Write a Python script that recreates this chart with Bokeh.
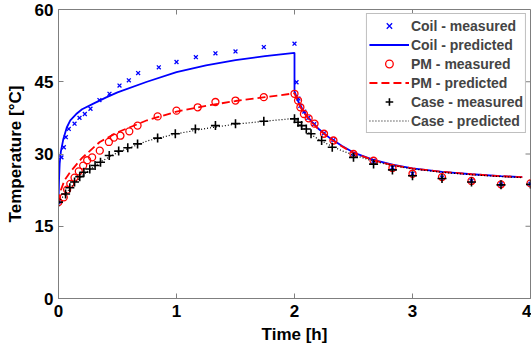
import math
from bokeh.plotting import figure
from bokeh.models import FixedTicker, Range1d
from bokeh.embed import file_html
from bokeh.resources import INLINE

# ---- data ----
coil_meas_t = [0, 0.025, 0.045, 0.062, 0.087, 0.136, 0.178, 0.223, 0.271, 0.347, 0.432, 0.517, 0.596, 0.675,
               0.85, 1.0, 1.164, 1.33, 1.5, 1.74, 2.0,
               2.017, 2.033, 2.05, 2.083, 2.117, 2.167, 2.25, 2.33, 2.5, 2.67, 2.83, 3.0, 3.25, 3.5, 3.75, 4.0]
coil_meas_T = [20, 29.3, 31.4, 33.5, 35.2, 36.3, 37.5, 38.3, 39.4, 41.2, 42.5, 44.2, 45.3, 46.8,
               48.0, 49.1, 50.1, 50.9, 51.3, 52.2, 52.9,
               44.9, 41.5, 40.0, 38.8, 37.5, 36.2, 34.3, 32.9, 30.0, 28.6, 27.2, 25.9, 25.1, 24.4, 23.7, 23.8]

coil_pred_t = [0, 0.005, 0.01, 0.02, 0.04, 0.07, 0.1, 0.15, 0.2, 0.3, 0.4, 0.5, 0.75, 1.0, 1.25, 1.5, 1.75, 2.0,
               2.0, 2.03, 2.06, 2.1, 2.15, 2.2, 2.3, 2.4, 2.5, 2.67, 2.83, 3.0, 3.25, 3.5, 3.75, 3.93]
coil_pred_T = [20, 25, 28, 30.5, 33, 35.5, 37, 38.3, 39.3, 40.5, 41.7, 42.8, 45.0, 47.0, 48.4, 49.5, 50.3, 51.0,
               43.0, 41.0, 39.5, 38.0, 36.6, 35.3, 33.3, 31.7, 30.3, 28.8, 27.8, 27.0, 26.3, 25.8, 25.4, 25.2]

pm_meas_t = [0, 0.045, 0.073, 0.10, 0.136, 0.172, 0.209, 0.243, 0.285, 0.35, 0.427, 0.47, 0.525, 0.6, 0.67,
             0.84, 1.0, 1.18, 1.33, 1.5, 1.74, 2.0,
             2.03, 2.05, 2.08, 2.12, 2.17, 2.25, 2.33, 2.5, 2.67, 2.83, 3.0, 3.25, 3.5, 3.75, 4.0]
pm_meas_T = [20, 21.0, 22.6, 23.8, 25.1, 26.4, 27.6, 28.7, 29.3, 30.7, 32.5, 33.4, 33.8, 34.7, 35.9,
             37.8, 39.0, 39.7, 40.8, 41.1, 41.8, 42.5,
             41.1, 39.7, 38.3, 37.4, 36.3, 34.2, 32.8, 30.0, 28.6, 27.1, 25.9, 25.2, 24.4, 23.7, 23.9]

pm_pred_t = [0, 0.02, 0.05, 0.1, 0.2, 0.35, 0.5, 0.75, 1.0, 1.25, 1.5, 1.75, 2.0,
             2.03, 2.06, 2.1, 2.15, 2.2, 2.3, 2.4, 2.5, 2.67, 2.83, 3.0, 3.25, 3.5, 3.75, 3.93]
pm_pred_T = [20, 22.5, 24.5, 26.3, 29.2, 32.5, 34.5, 37, 38.8, 40, 41, 41.8, 42.6,
             40.8, 39.3, 37.9, 36.5, 35.2, 33.2, 31.6, 30.2, 28.7, 27.7, 27.0, 26.3, 25.8, 25.4, 25.2]

case_meas_t = [0, 0.06, 0.096, 0.136, 0.18, 0.215, 0.265, 0.31, 0.356, 0.43, 0.51, 0.587, 0.67, 0.84, 0.99,
               1.16, 1.33, 1.5, 1.74, 2.0,
               2.03, 2.06, 2.1, 2.14, 2.23, 2.32, 2.5, 2.67, 2.83, 3.0, 3.25, 3.5, 3.75, 4.0]
case_meas_T = [20, 21.7, 23.0, 24.2, 25.3, 26.2, 26.9, 27.6, 28.3, 29.7, 30.6, 31.3, 32.1, 33.3, 34.2,
               35.2, 35.9, 36.3, 36.8, 37.3,
               36.6, 35.9, 35.2, 34.2, 32.8, 31.4, 29.3, 27.9, 26.7, 25.5, 24.9, 24.2, 23.6, 23.7]

case_pred_t = [0, 0.05, 0.1, 0.2, 0.35, 0.5, 0.75, 1.0, 1.25, 1.5, 1.75, 2.0,
               2.03, 2.06, 2.1, 2.15, 2.2, 2.3, 2.4, 2.5, 2.67, 2.83, 3.0, 3.25, 3.5, 3.75, 3.93]
case_pred_T = [20, 21.5, 23, 25.5, 28.3, 30.3, 32.7, 34.2, 35.3, 36.2, 36.8, 37.4,
               36.5, 35.7, 34.8, 33.9, 33.1, 31.8, 30.7, 29.8, 28.5, 27.6, 26.9, 26.2, 25.7, 25.3, 25.1]

x_ticks = [0, 1, 2, 3, 4]
y_ticks = [0, 15, 30, 45, 60]
x_lim = (0, 4)
y_lim = (0, 60)

FONT = "Liberation Sans"
AX = "#7f7f7f"

p = figure(width=531, height=347, output_backend="svg", toolbar_location=None,
           x_range=Range1d(*x_lim), y_range=Range1d(*y_lim),
           min_border_left=58, min_border_right=1, min_border_top=9, min_border_bottom=49)
p.grid.visible = False
p.outline_line_color = AX
p.background_fill_color = "white"

p.scatter(coil_meas_t, coil_meas_T, marker="x", size=5.5, line_color="#0000ff", line_width=1.3,
          legend_label="Coil - measured")
p.line(coil_pred_t, coil_pred_T, line_color="#0000ff", line_width=1.8, legend_label="Coil - predicted")
p.scatter(pm_meas_t, pm_meas_T, marker="circle", size=7, line_color="#ff0000", fill_color=None,
          line_width=1.3, legend_label="PM - measured")
p.line(pm_pred_t, pm_pred_T, line_color="#ff0000", line_width=1.8, line_dash="8 4",
       legend_label="PM - predicted")
p.scatter(case_meas_t, case_meas_T, marker="cross", size=9, line_color="black", line_width=1.6,
          legend_label="Case - measured")
p.line(case_pred_t, case_pred_T, line_color="black", line_width=1.2, line_dash="1 2",
       legend_label="Case - predicted")

# inward box ticks on top and right (MATLAB style)
p.ray(x=x_ticks, y=[y_lim[1]] * len(x_ticks), length=5, length_units="screen",
      angle=-math.pi / 2, line_color=AX, line_width=1)
p.ray(x=[x_lim[1]] * len(y_ticks), y=y_ticks, length=5, length_units="screen",
      angle=math.pi, line_color=AX, line_width=1)

for ax in (p.xaxis[0], p.yaxis[0]):
    ax.axis_line_color = AX
    ax.major_tick_line_color = AX
    ax.major_tick_in = 5
    ax.major_tick_out = 0
    ax.minor_tick_line_color = None
    ax.major_label_text_font = FONT
    ax.major_label_text_font_style = "bold"
    ax.major_label_text_font_size = "17px"
    ax.major_label_text_color = "black"
    ax.axis_label_text_font = FONT
    ax.axis_label_text_font_style = "bold"
    ax.axis_label_text_font_size = "17px"
    ax.axis_label_text_color = "black"
p.xaxis[0].ticker = FixedTicker(ticks=x_ticks)
p.yaxis[0].ticker = FixedTicker(ticks=y_ticks)
p.xaxis[0].axis_label = "Time [h]"
p.yaxis[0].axis_label = "Temperature [°C]"
p.xaxis[0].major_label_standoff = 6
p.yaxis[0].major_label_standoff = 5
p.xaxis[0].axis_label_standoff = 5
p.yaxis[0].axis_label_standoff = 7

lg = p.legend[0]
lg.location = "top_right"
lg.border_line_color = AX
lg.border_line_width = 1
lg.background_fill_color = "white"
lg.background_fill_alpha = 1
lg.label_text_font = FONT
lg.label_text_font_style = "bold"
lg.label_text_font_size = "14px"
lg.glyph_width = 40
lg.label_height = 19
lg.glyph_height = 19
lg.spacing = 0
lg.padding = 2
lg.margin = 4
lg.label_standoff = 2

open("out.html", "w").write(file_html(p, INLINE))
